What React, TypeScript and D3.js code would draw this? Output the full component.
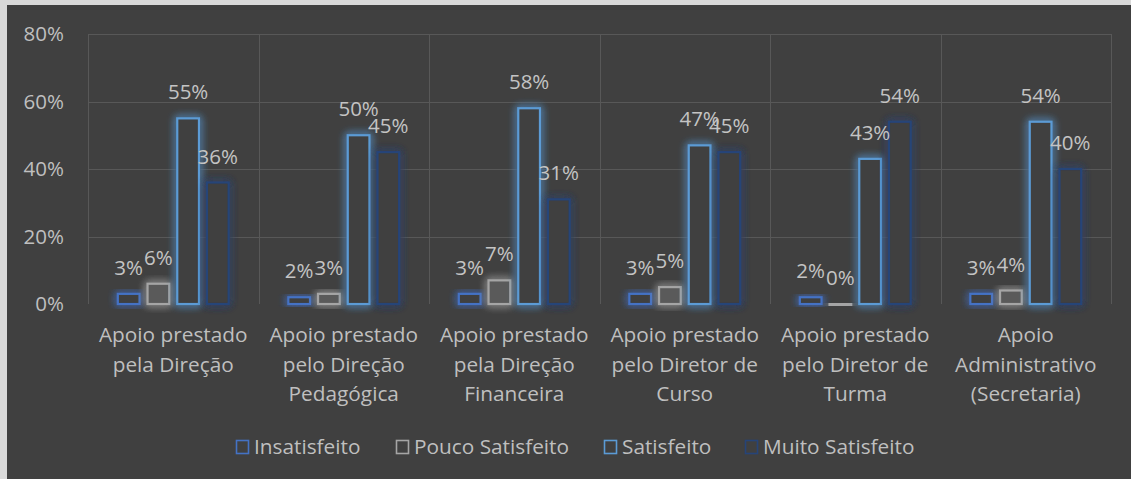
import React, { useEffect, useRef } from 'react';
import * as d3 from 'd3';

const categories = [
  ['Apoio prestado', 'pela Direção'],
  ['Apoio prestado', 'pelo Direção', 'Pedagógica'],
  ['Apoio prestado', 'pela Direção', 'Financeira'],
  ['Apoio prestado', 'pelo Diretor de', 'Curso'],
  ['Apoio prestado', 'pelo Diretor de', 'Turma'],
  ['Apoio', 'Administrativo', '(Secretaria)'],
];

const seriesNames = ['Insatisfeito', 'Pouco Satisfeito', 'Satisfeito', 'Muito Satisfeito'];
const insatisfeito = [3, 2, 3, 3, 2, 3];
const poucoSatisfeito = [6, 3, 7, 5, 0, 4];
const satisfeito = [55, 50, 58, 47, 43, 54];
const muitoSatisfeito = [36, 45, 31, 45, 54, 40];
const yTicks = [0, 20, 40, 60, 80];

const colors = ['#4472c4', '#a5a5a5', '#5b9bd5', '#264478'];
const FONT = '"Open Sans", sans-serif';

const App = () => {
  const ref = useRef<SVGSVGElement | null>(null);

  useEffect(() => {
    if (!ref.current) return;
    const svg = d3.select(ref.current);
    svg.selectAll('*').remove();

    const W = 1131, H = 479;
    const series = [insatisfeito, poucoSatisfeito, satisfeito, muitoSatisfeito];

    // frame
    svg.append('rect').attr('width', W).attr('height', H).attr('fill', '#d9d9d9');
    svg.append('rect').attr('x', 7).attr('y', 5).attr('width', W - 7).attr('height', H - 5).attr('fill', '#404040');

    // glow filter
    const defs = svg.append('defs');
    const f = defs.append('filter').attr('id', 'glow')
      .attr('x', '-80%').attr('y', '-40%').attr('width', '260%').attr('height', '180%');
    f.append('feGaussianBlur').attr('in', 'SourceGraphic').attr('stdDeviation', 4.5).attr('result', 'b');
    const m = f.append('feMerge');
    m.append('feMergeNode').attr('in', 'b');
    m.append('feMergeNode').attr('in', 'b');
    m.append('feMergeNode').attr('in', 'SourceGraphic');

    const x0 = 88, x1 = 1111, yTop = 34, yBot = 304;
    const x = d3.scaleBand().domain(categories.map((_, i) => String(i))).range([x0, x1]);
    const y = d3.scaleLinear().domain([0, 80]).range([yBot, yTop]);
    const inner = d3.scaleBand().domain(seriesNames).range([x.bandwidth() * 0.175, x.bandwidth() * 0.825]).paddingInner(0.27);

    // gridlines
    const grid = svg.append('g').attr('stroke', '#585858').attr('stroke-width', 1);
    yTicks.filter(t => t > 0).forEach(t => {
      grid.append('line').attr('x1', x0).attr('x2', x1).attr('y1', Math.round(y(t)) + 0.5).attr('y2', Math.round(y(t)) + 0.5);
    });
    d3.range(categories.length + 1).forEach(i => {
      const xv = Math.round(x0 + i * x.bandwidth()) + 0.5;
      grid.append('line').attr('x1', xv).attr('x2', xv).attr('y1', yTop).attr('y2', yBot);
    });

    // y labels
    svg.append('g').selectAll('text').data(yTicks).enter().append('text')
      .attr('x', 64).attr('y', d => y(d)).attr('dy', '0.35em')
      .attr('text-anchor', 'end').attr('fill', '#bfbfbf')
      .style('font-family', FONT).style('font-size', '20.5px')
      .text(d => `${d}%`);

    // bars
    series.forEach((vals, s) => {
      const g = svg.append('g');
      vals.forEach((v, i) => {
        const bx = (x(String(i)) as number) + (inner(seriesNames[s]) as number);
        const bw = inner.bandwidth();
        const top = y(v);
        g.append('rect')
          .attr('x', bx).attr('y', top)
          .attr('width', bw).attr('height', Math.max(yBot - top, 1))
          .attr('fill', s === 1 ? '#5a5a5a' : '#3f3f3f')
          .attr('stroke', colors[s]).attr('stroke-width', 2.2)
          .attr('filter', 'url(#glow)');
      });
    });

    // value labels
    series.forEach((vals, s) => {
      vals.forEach((v, i) => {
        const bx = (x(String(i)) as number) + (inner(seriesNames[s]) as number);
        svg.append('text')
          .attr('x', bx + inner.bandwidth() / 2).attr('y', y(v) - 19)
          .attr('text-anchor', 'middle').attr('fill', '#c4c4c4')
          .style('font-family', FONT).style('font-size', '20.5px')
          .text(`${v}%`);
      });
    });

    // category labels
    categories.forEach((lines, i) => {
      const cx = (x(String(i)) as number) + x.bandwidth() / 2;
      const t = svg.append('text').attr('text-anchor', 'middle').attr('fill', '#bfbfbf')
        .style('font-family', FONT).style('font-size', '20.8px');
      lines.forEach((ln, k) => {
        t.append('tspan').attr('x', cx).attr('y', 342 + k * 29.5).text(ln);
      });
    });

    // legend
    const legendX = [236, 396, 604, 745];
    seriesNames.forEach((name, s) => {
      const lg = svg.append('g').attr('transform', `translate(${legendX[s]},447)`);
      lg.append('rect').attr('x', 0.5).attr('y', -6.5).attr('width', 12).attr('height', 13)
        .attr('fill', 'none').attr('stroke', colors[s]).attr('stroke-width', 1.6);
      lg.append('text').attr('x', 18).attr('y', 0).attr('dy', '0.35em').attr('fill', '#bfbfbf')
        .style('font-family', FONT).style('font-size', '20.8px')
        .text(name);
    });
  }, []);

  return (
    <svg ref={ref} width={1131} height={479}
      style={{ position: 'absolute', left: 0, top: 0, display: 'block' }} />
  );
};

export default App;
